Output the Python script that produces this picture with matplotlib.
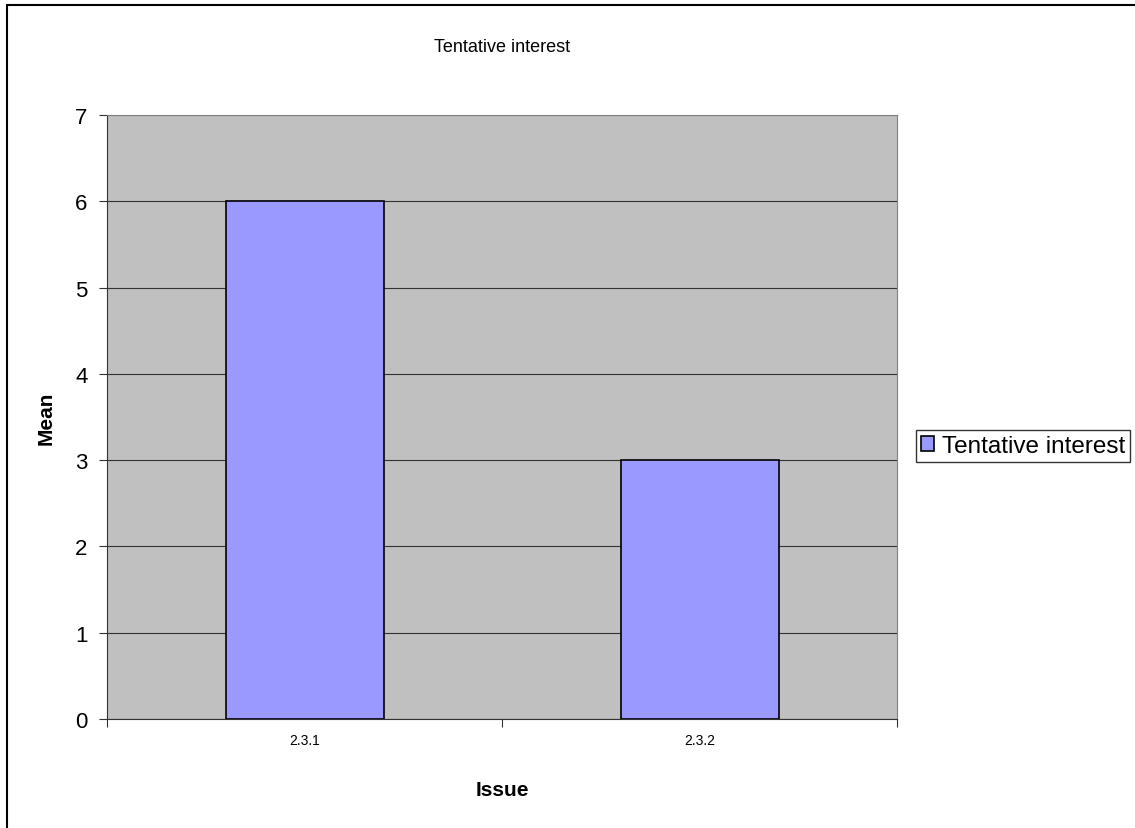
import matplotlib
matplotlib.use("Agg")
from matplotlib import pyplot as plt
from matplotlib.patches import Rectangle

plt.rcParams['font.family'] = ['Liberation Sans', 'DejaVu Sans']

issues = ["2.3.1", "2.3.2"]
means = [6, 3]
series_name = "Tentative interest"

fig = plt.figure(figsize=(11.35, 8.29), dpi=100)
W, H = 1135, 829
# plot area in pixels: left 107, right 897, top 116, bottom 720
ax = fig.add_axes([107/W, 1-720/H, (897-107)/W, (720-116)/H])
ax.set_facecolor("#C0C0C0")

x = list(range(len(issues)))
ax.bar(x, means, width=0.4, color="#9999FF", edgecolor="black", linewidth=1.2,
       label=series_name, zorder=3)

ax.set_xlim(-0.5, len(issues) - 0.5)
ax.set_ylim(0, 7)
ax.set_yticks(range(0, 8))
ax.yaxis.grid(True, color="#333333", linewidth=0.8, zorder=1)
ax.set_axisbelow(True)

ax.set_xticks([i - 0.5 for i in range(len(issues) + 1)], minor=False)
ax.set_xticklabels([])
ax.set_xticks(x, minor=True)
ax.set_xticklabels(issues, minor=True, fontsize=10)
ax.tick_params(axis='x', which='major', direction='out', length=6, color="#333333")
ax.tick_params(axis='x', which='minor', length=0, pad=10)
ax.tick_params(axis='y', direction='out', length=6, color="#333333", labelsize=16, pad=8)

for side in ["left", "bottom"]:
    ax.spines[side].set_color("#333333")
for side in ["top", "right"]:
    ax.spines[side].set_color("#808080")

ax.set_ylabel("Mean", fontsize=15, fontweight="bold", labelpad=14)
ax.set_xlabel("Issue", fontsize=15, fontweight="bold", labelpad=24)
fig.text(502/W, 1-47/H, "Tentative interest", ha="center", va="center", fontsize=13)

leg = ax.legend(loc="center left", bbox_to_anchor=(916/W, 1-447/H),
                bbox_transform=fig.transFigure, fontsize=17.5, frameon=True,
                fancybox=False, edgecolor="black", handlelength=0.55,
                handleheight=0.55, handletextpad=0.3, borderpad=0.2,
                borderaxespad=0)
leg.get_frame().set_linewidth(1.0)

fig.patches.append(Rectangle((7/W, -0.01), 1.0, 1.01-6/H, transform=fig.transFigure,
                             fill=False, edgecolor="black", linewidth=1.5))

fig.savefig("out.png", dpi=100)
